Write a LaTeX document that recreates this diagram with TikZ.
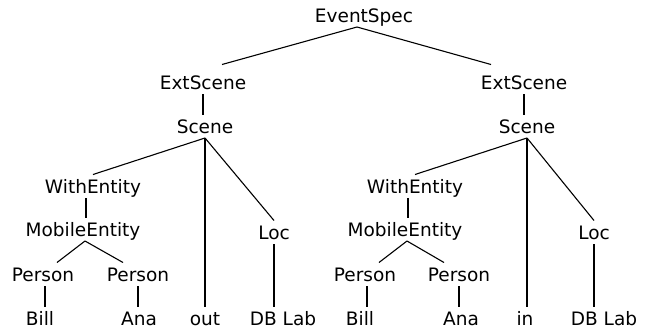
\documentclass[tikz,border=0pt]{standalone}
\usepackage{fontspec}
\setmainfont{DejaVu Sans}

\begin{document}
\begin{tikzpicture}[x=1pt, y=-1pt, line width=1.1pt,
  lbl/.style={font=\fontsize{18.5}{20}\selectfont, inner sep=0pt, outer sep=5pt,
    text height=13.5pt, text depth=0pt, anchor=base}]
\useasboundingbox (0,0) rectangle (651,330);
% top
\node [lbl] (es) at (364,22) {EventSpec};
\node [lbl] (xsL) at (203,89) {ExtScene};
\node [lbl] (xsR) at (524,89) {ExtScene};
% left tree
\node [lbl] (scL) at (205,133) {Scene};
\node [lbl] (weL) at (93,193) {WithEntity};
\node [lbl] (meL) at (83,236) {MobileEntity};
\node [lbl] (pAL) at (43,281) {Person};
\node [lbl] (pBL) at (138,281) {Person};
\node [lbl] (billL) at (40,325) {Bill};
\node [lbl] (anaL) at (139,325) {Ana};
\node [lbl] (out) at (205,325) {out};
\node [lbl] (locL) at (274,239) {Loc};
\node [lbl] (dbL) at (283,325) {DB Lab};
% right tree
\node [lbl] (scR) at (527,133) {Scene};
\node [lbl] (weR) at (415,193) {WithEntity};
\node [lbl] (meR) at (405,236) {MobileEntity};
\node [lbl] (pAR) at (365,281) {Person};
\node [lbl] (pBR) at (459,281) {Person};
\node [lbl] (billR) at (360,325) {Bill};
\node [lbl] (anaR) at (461,325) {Ana};
\node [lbl] (in) at (525,325) {in};
\node [lbl] (locR) at (594,239) {Loc};
\node [lbl] (dbR) at (604,325) {DB Lab};
% edges
\draw ([xshift=-7pt]es.south) -- ([shift={(19,-6)}]xsL.north);
\draw ([xshift=-7pt]es.south) -- ([shift={(-33,-6)}]xsR.north);
\draw (xsL.south) -- (xsL.south |- scL.north);
\draw (xsR.south) -- (xsR.south |- scR.north);
\draw (scL.south) -- (weL.north);
\draw (scL.south) -- (scL.south |- out.north);
\draw (scL.south) -- (locL.north);
\draw (scR.south) -- (weR.north);
\draw (scR.south) -- (scR.south |- in.north);
\draw (scR.south) -- (locR.north);
\draw ([xshift=-7pt]weL.south) -- ([xshift=3pt]meL.north);
\draw ([xshift=-7pt]weR.south) -- ([xshift=3pt]meR.north);
\draw ([xshift=2pt]meL.south) -- ([xshift=14pt]pAL.north);
\draw ([xshift=2pt]meL.south) -- ([xshift=-15pt]pBL.north);
\draw ([xshift=2pt]meR.south) -- ([xshift=14pt]pAR.north);
\draw ([xshift=2pt]meR.south) -- ([xshift=-15pt]pBR.north);
\draw ([xshift=2pt]pAL.south) -- ([xshift=2pt]pAL.south |- billL.north);
\draw (pBL.south) -- (pBL.south |- anaL.north);
\draw ([xshift=2pt]pAR.south) -- ([xshift=2pt]pAR.south |- billR.north);
\draw (pBR.south) -- (pBR.south |- anaR.north);
\draw (locL.south) -- (locL.south |- dbL.north);
\draw (locR.south) -- (locR.south |- dbR.north);
\end{tikzpicture}
\end{document}
